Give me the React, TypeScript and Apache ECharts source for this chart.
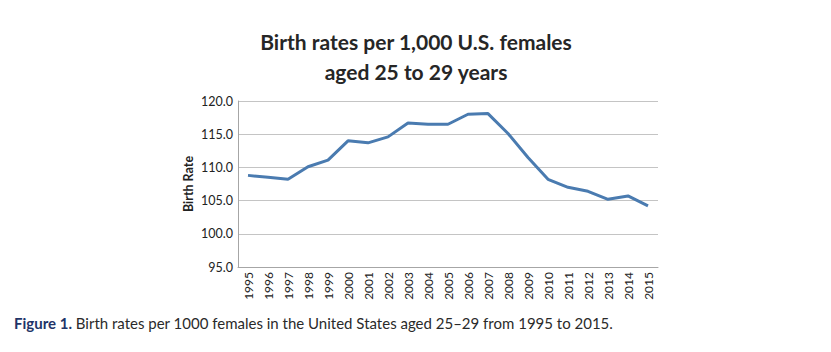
import React, { useEffect, useRef } from "react";
import * as echarts from "echarts";

const years = ["1995","1996","1997","1998","1999","2000","2001","2002","2003","2004","2005","2006","2007","2008","2009","2010","2011","2012","2013","2014","2015"];
const birthRates = [108.8,108.5,108.2,110.1,111.1,114.0,113.7,114.6,116.7,116.5,116.5,118.0,118.1,115.1,111.5,108.2,107.0,106.4,105.2,105.7,104.2];
const titleLines = ["Birth rates per 1,000 U.S. females", "aged 25 to 29 years"];
const yAxisName = "Birth Rate";
const captionLead = "Figure 1.";
const captionText = " Birth rates per 1000 females in the United States aged 25\u201329 from 1995 to 2015.";

export default function App() {
  const ref = useRef<HTMLDivElement>(null);
  useEffect(() => {
    if (!ref.current) return;
    const chart = echarts.init(ref.current, null, { renderer: "svg" });
    const font = "Lato, 'Open Sans', sans-serif";
    chart.setOption({
      animation: false,
      backgroundColor: "#ffffff",
      textStyle: { fontFamily: font },
      title: {
        text: titleLines.join("\n"),
        left: 411,
        textAlign: "center",
        top: 21,
        textStyle: { fontFamily: font, fontSize: 21, fontWeight: "bold", color: "#262626", lineHeight: 30 },
      },
      grid: { left: 238, right: 173, top: 101, bottom: 85, containLabel: false },
      xAxis: {
        type: "category",
        data: years,
        boundaryGap: true,
        axisLine: { show: true, lineStyle: { color: "#a6a6a6", width: 1 } },
        axisTick: { show: false },
        axisLabel: { rotate: 90, fontSize: 12, color: "#222", margin: 5, interval: 0, fontFamily: font },
        splitLine: { show: false },
      },
      yAxis: {
        type: "value",
        min: 95,
        max: 120,
        interval: 5,
        name: yAxisName,
        nameLocation: "middle",
        nameGap: 43,
        nameMoveOverlap: false,
        nameRotate: 90,
        nameTextStyle: { fontSize: 12.5, fontWeight: "bold", color: "#222", fontFamily: font },
        axisLine: { show: true, lineStyle: { color: "#a6a6a6", width: 1 } },
        axisTick: { show: false },
        axisLabel: { fontSize: 12.5, color: "#222", margin: 5, formatter: (v: number) => v.toFixed(1), fontFamily: font },
        splitLine: { show: true, lineStyle: { color: "#c4c4c4", width: 1 } },
      },
      series: [
        {
          type: "line",
          data: birthRates,
          symbol: "none",
          lineStyle: { color: "#4a7bb0", width: 3 },
          itemStyle: { color: "#4a7bb0" },
        },
      ],
      graphic: [
        {
          type: "text",
          left: 14,
          top: 315,
          style: {
            text: "{a|" + captionLead + "}{b|" + captionText + "}",
            rich: {
              a: { fontFamily: font, fontSize: 15, fontWeight: "bold", fill: "#1f3468" },
              b: { fontFamily: font, fontSize: 15, fill: "#2a2a2a" },
            },
          },
        },
      ],
    });
    return () => chart.dispose();
  }, []);
  return <div ref={ref} style={{ position: "absolute", left: 0, top: 0, width: 831, height: 352 }} />;
}
